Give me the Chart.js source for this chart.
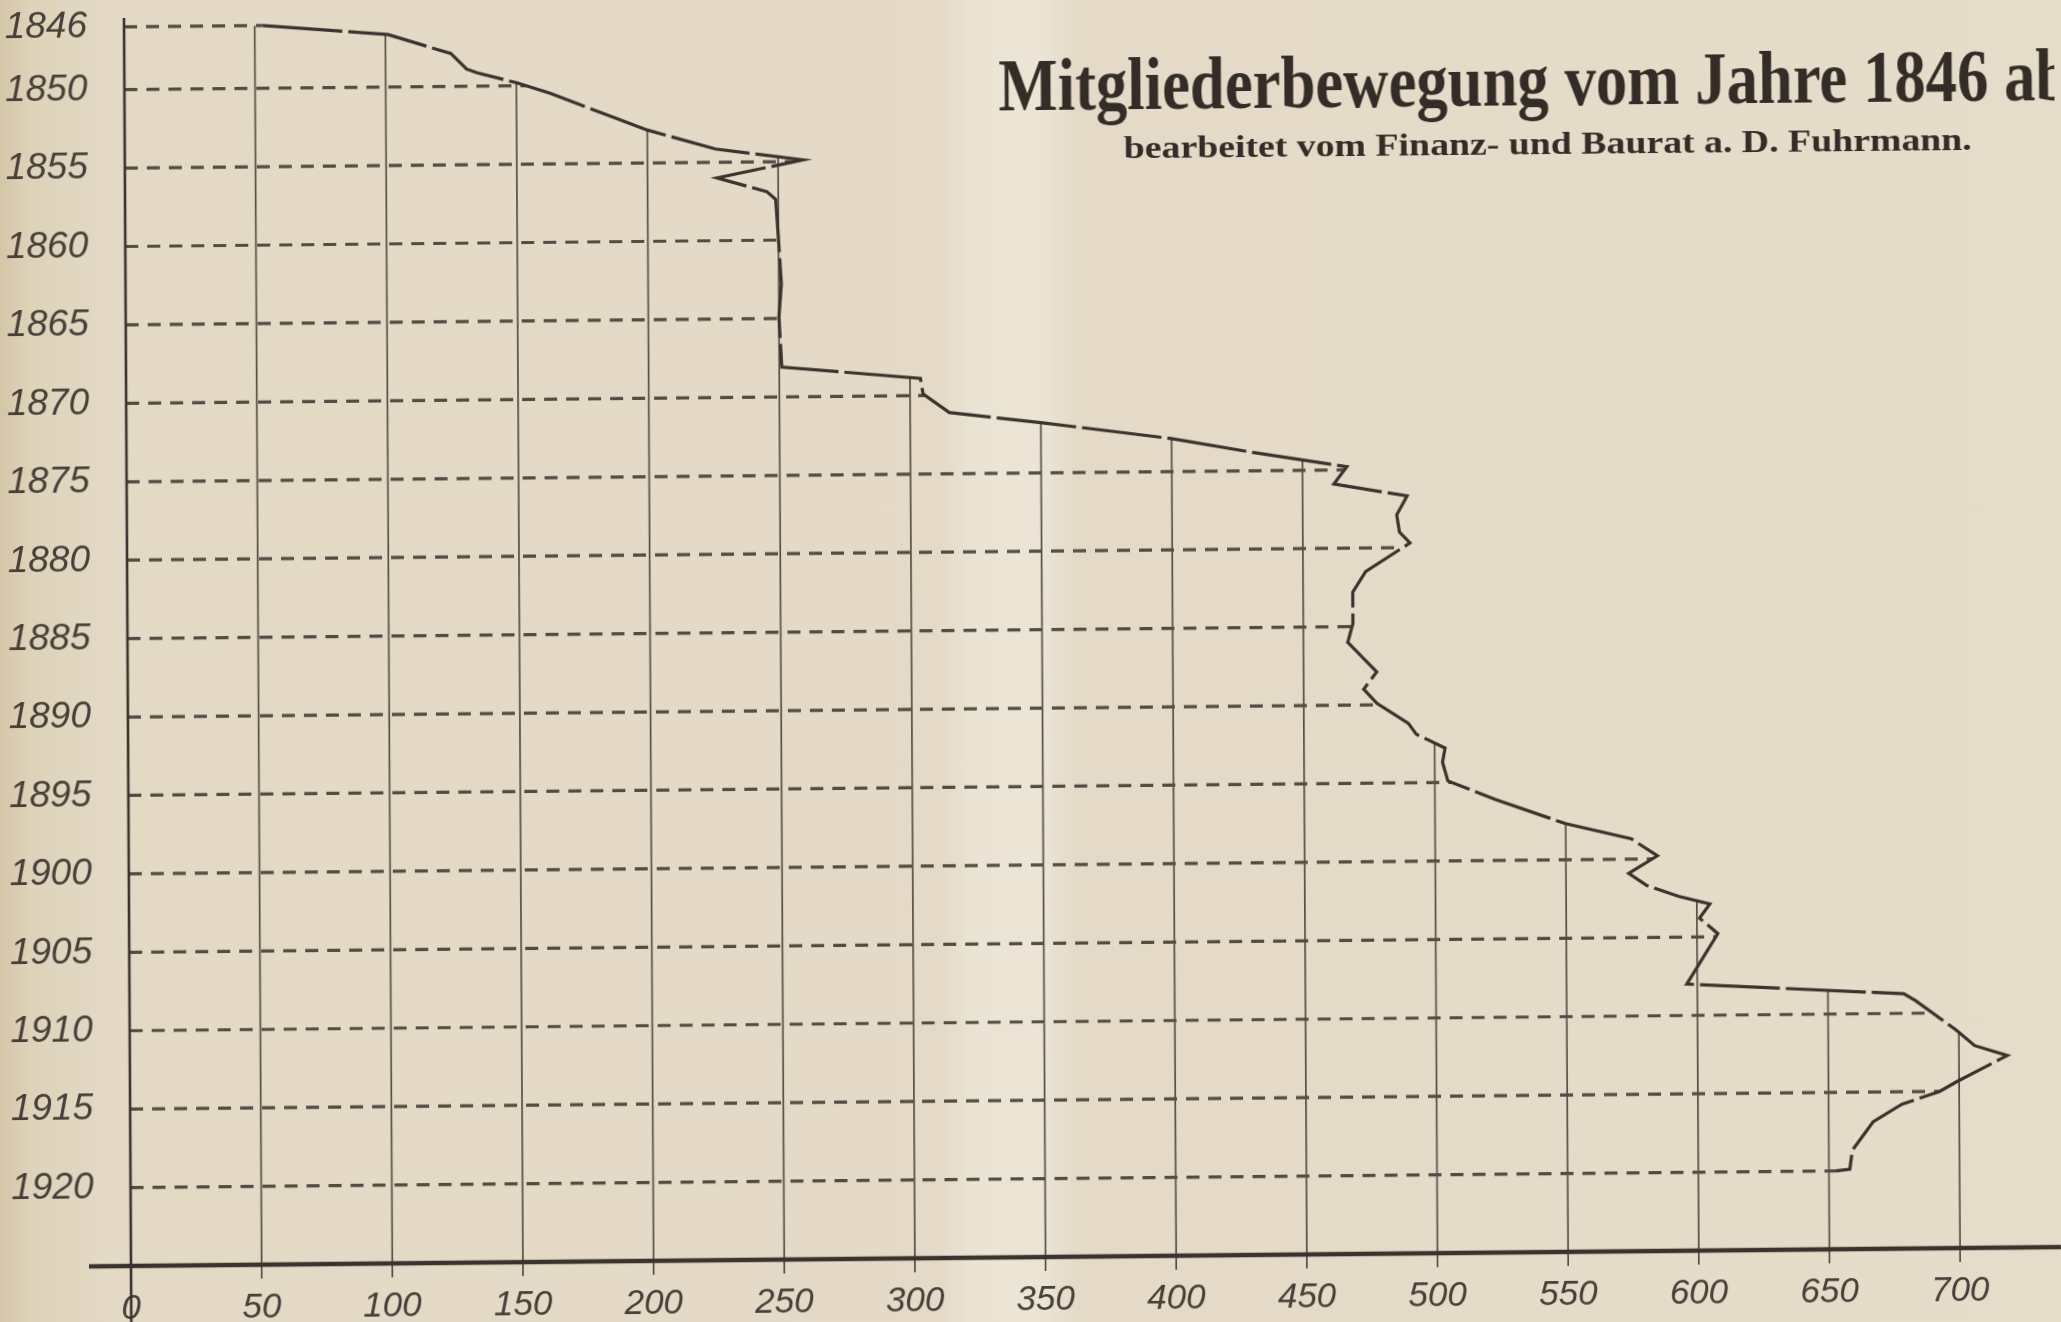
<!DOCTYPE html>
<html>
<head>
<meta charset="utf-8">
<title>Mitgliederbewegung vom Jahre 1846 ab</title>
<script src="https://cdn.jsdelivr.net/npm/chart.js@4.4.1/dist/chart.umd.min.js"></script>
<style>
  html, body { margin: 0; padding: 0; overflow: hidden; }
  body {
    width: 2061px;
    height: 1322px;
    position: relative;
    background: linear-gradient(to right, #d5c6a8 0px, #ded2b9 30px, #e3d9c5 110px, #e4dac7 940px,
                #ebe4d4 975px, #ece5d6 1040px, #e4dac7 1075px, #e5dcc9 2061px);
  }
  /* the scanned sheet is a little askew, so tilt the canvas around the axis origin */
  #chart {
    position: absolute;
    left: 0;
    top: 0;
    transform-origin: 131px 1266px;
    transform: matrix(1, -0.0098, 0.0056, 1, 0, 0);
  }
</style>
</head>
<body>
<canvas id="chart" width="2061" height="1322"></canvas>
<script>
// membership count per year (top to bottom)
const years = [
    1846.0, 1846.65, 1847.9, 1848.9, 1849.15, 1849.8, 1850.5, 1852.0, 1852.9, 1854.15,
    1854.9, 1856.0, 1856.9, 1857.4, 1860.0, 1862.8, 1864.9, 1868.1, 1868.9, 1869.9,
    1871.1, 1871.8, 1872.9, 1873.8, 1874.8, 1875.9, 1876.7, 1877.9, 1879.0, 1879.7,
    1881.5, 1882.8, 1884.8, 1886.0, 1887.9, 1889.0, 1889.9, 1891.2, 1891.9, 1892.8,
    1893.7, 1894.9, 1896.1, 1897.7, 1898.7, 1899.8, 1900.9, 1901.7, 1902.4, 1902.9,
    1903.8, 1904.8, 1908.0, 1908.75, 1909.2, 1911.1, 1912.1, 1912.75, 1914.4, 1915.0,
    1915.8, 1916.9, 1918.7, 1919.9, 1920.0
];
const members = [
    53, 101, 125, 131, 135, 150, 163, 186, 200, 226,
    259.5, 226.6, 245.6, 249, 250, 251, 250, 251, 304, 305,
    315, 350, 400, 430, 467, 462, 490, 486, 487, 491,
    474, 469, 469, 467, 478, 473, 478, 490, 493, 504,
    503, 505, 523, 550, 575, 585, 574, 581, 593, 605,
    601, 608, 596, 679, 683.5, 699, 706, 718.5, 699, 692.5,
    678, 667, 659, 658, 652.6
];

const yearTicks = [1846, 1850, 1855, 1860, 1865, 1870, 1875, 1880, 1885, 1890, 1895, 1900, 1905, 1910, 1915, 1920];
const memberTicks = [0, 50, 100, 150, 200, 250, 300, 350, 400, 450, 500, 550, 600, 650, 700];

const titleText = 'Mitgliederbewegung vom Jahre 1846 ab';
const subtitleText = 'bearbeitet vom Finanz- und Baurat a. D. Fuhrmann.';

const ink = '#3b342e';
const pencil = '#464039';
const handFont = "'Liberation Sans', Arimo, sans-serif";

// year at which the curve first reaches a member count
function crossYear(v) {
    if (v <= members[0]) return years[0];
    for (let i = 0; i < members.length - 1; i++) {
        const a = members[i], b = members[i + 1];
        if ((a - v) * (b - v) <= 0) {
            if (a === b) return years[i];
            return years[i] + (years[i + 1] - years[i]) * (v - a) / (b - a);
        }
    }
    return years[years.length - 1];
}

// member count where the curve first reaches a year
function crossMembers(yr) {
    for (let i = 0; i < years.length - 1; i++) {
        const a = years[i], b = years[i + 1];
        if ((a - yr) * (b - yr) <= 0) {
            if (a === b) return members[i];
            return members[i] + (members[i + 1] - members[i]) * (yr - a) / (b - a);
        }
    }
    return members[members.length - 1];
}

// grid lines only run from the axes up to the curve, like on the drawing
const handDrawnGrid = {
    id: 'handDrawnGrid',
    beforeDatasetsDraw(chart) {
        const {ctx, chartArea, scales: {x, y}} = chart;
        ctx.save();

        ctx.strokeStyle = 'rgba(58, 50, 44, 0.85)';
        ctx.lineWidth = 3.2;
        ctx.setLineDash([13, 9]);
        yearTicks.forEach(function(yr) {
            const py = y.getPixelForValue(yr);
            ctx.beginPath();
            ctx.moveTo(x.getPixelForValue(0), py);
            ctx.lineTo(x.getPixelForValue(crossMembers(yr)), py);
            ctx.stroke();
        });

        ctx.setLineDash([]);
        ctx.strokeStyle = '#574f47';
        ctx.lineWidth = 1.7;
        memberTicks.forEach(function(v) {
            if (v === 0) return;
            const px = x.getPixelForValue(v);
            ctx.beginPath();
            ctx.moveTo(px, y.getPixelForValue(crossYear(v)));
            ctx.lineTo(px, chartArea.bottom + 14);
            ctx.stroke();
        });

        // axes
        ctx.strokeStyle = ink;
        ctx.lineWidth = 2.6;
        ctx.beginPath();
        ctx.moveTo(chartArea.left, chartArea.top);
        ctx.lineTo(chartArea.left, chart.height);
        ctx.stroke();

        ctx.lineWidth = 4.5;
        ctx.beginPath();
        ctx.moveTo(chartArea.left - 42, chartArea.bottom);
        ctx.lineTo(chart.width, chartArea.bottom);
        ctx.stroke();

        ctx.restore();
    }
};

function fitText(ctx, text, font, left, base, width) {
    ctx.font = font;
    const w = ctx.measureText(text).width;
    ctx.save();
    ctx.translate(left, base);
    ctx.scale(width / w, 1);
    ctx.fillText(text, 0, 0);
    ctx.restore();
}

const sheetTitle = {
    id: 'sheetTitle',
    afterDraw(chart) {
        const ctx = chart.ctx;
        ctx.save();
        ctx.fillStyle = '#342d27';
        ctx.textBaseline = 'alphabetic';
        fitText(ctx, titleText, "bold 74px 'Liberation Serif', serif", 1005, 119, 1072);
        fitText(ctx, subtitleText, "bold 31px 'Liberation Serif', serif", 1130, 168, 848);
        ctx.restore();
    }
};

document.addEventListener("DOMContentLoaded", function() {

    const points = members.map(function(m, i) {
        return {x: m, y: years[i]};
    });

    new Chart(document.getElementById('chart'), {
        type: 'scatter',
        data: {
            datasets: [{
                data: points,
                showLine: true,
                borderColor: ink,
                borderWidth: 3.2,
                borderDash: [80, 6],
                pointRadius: 0,
                tension: 0
            }]
        },
        options: {
            responsive: false,
            animation: false,
            devicePixelRatio: 1,
            layout: {
                padding: {top: 18, left: 0, right: 0, bottom: 0}
            },
            plugins: {
                legend: {display: false},
                tooltip: {enabled: false}
            },
            scales: {
                x: {
                    type: 'linear',
                    min: 0,
                    max: 738.6,
                    grid: {display: false},
                    border: {display: false},
                    afterBuildTicks: function(scale) {
                        scale.ticks = memberTicks.map(function(v) { return {value: v}; });
                    },
                    afterFit: function(scale) {
                        scale.height = 56;
                        scale.paddingLeft = 0;
                        scale.paddingRight = 0;
                    },
                    ticks: {
                        padding: 14,
                        color: pencil,
                        maxRotation: 0,
                        autoSkip: false,
                        font: {family: handFont, size: 35, style: 'italic'},
                        callback: function(v) { return String(v); }
                    }
                },
                y: {
                    type: 'linear',
                    reverse: true,
                    min: 1845.43,
                    max: 1925,
                    grid: {display: false},
                    border: {display: false},
                    afterBuildTicks: function(scale) {
                        scale.ticks = yearTicks.map(function(v) { return {value: v}; });
                    },
                    afterFit: function(scale) {
                        scale.width = 131;
                        scale.paddingTop = 0;
                        scale.paddingBottom = 0;
                    },
                    ticks: {
                        padding: 29,
                        color: pencil,
                        autoSkip: false,
                        font: {family: handFont, size: 37, style: 'italic'},
                        callback: function(v) { return String(v); }
                    }
                }
            }
        },
        plugins: [handDrawnGrid, sheetTitle]
    });
});
</script>
</body>
</html>
